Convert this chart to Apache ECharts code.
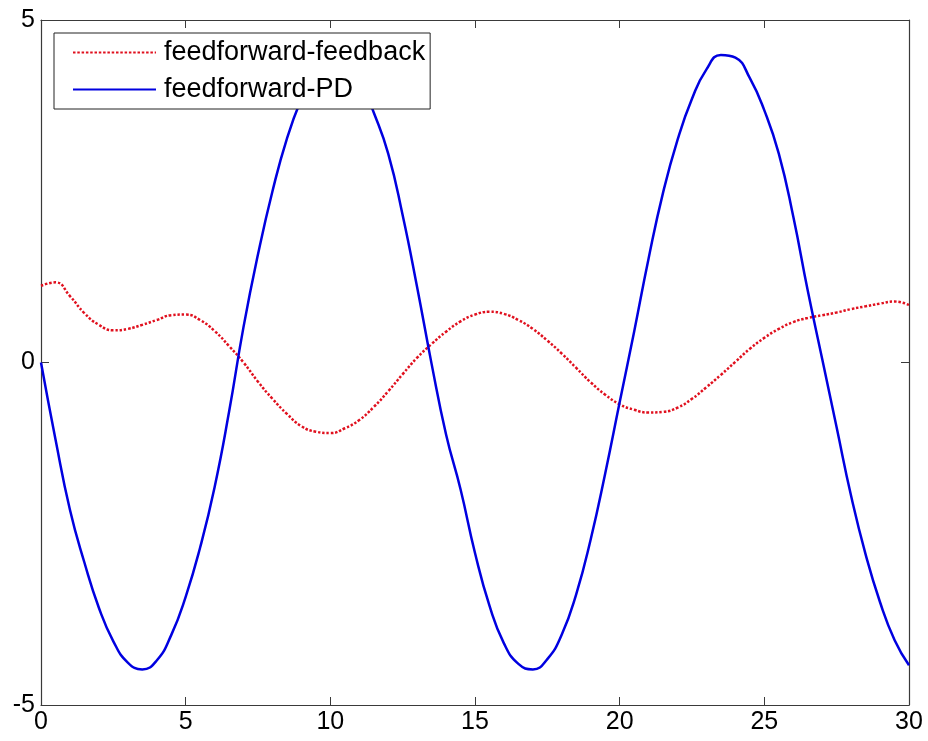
<!DOCTYPE html>
<html>
<head>
<meta charset="utf-8">
<script src="https://cdn.jsdelivr.net/npm/echarts@6/dist/echarts.min.js"></script>
<style>
  html, body { margin: 0; padding: 0; background: #fff; }
  #main { width: 928px; height: 741px; }
</style>
</head>
<body>
<div id="main"></div>
<script>
// time samples (step 0.5)
var times = [0,0.5,1,1.5,2,2.5,3,3.5,4,4.5,5,5.5,6,6.5,7,7.5,8,8.5,9,9.5,
	10,10.5,11,11.5,12,12.5,13,13.5,14,14.5,15,15.5,16,16.5,17,17.5,18,18.5,19,19.5,
	20,20.5,21,21.5,22,22.5,23,23.5,24,24.5,25,25.5,26,26.5,27,27.5,28,28.5,29,29.5,30];

var feedback = [1.12,1.17,0.97,0.72,0.55,0.47,0.49,0.55,0.62,0.69,0.70,0.62,0.46,0.24,0.00,-0.28,-0.53,-0.75,-0.93,-1.01,
	-1.03,-0.96,-0.84,-0.65,-0.42,-0.17,0.07,0.27,0.45,0.60,0.70,0.74,0.71,0.62,0.49,0.32,0.13,-0.08,-0.29,-0.47,
	-0.61,-0.69,-0.73,-0.72,-0.66,-0.53,-0.36,-0.18,0.01,0.20,0.36,0.49,0.59,0.65,0.69,0.73,0.78,0.82,0.86,0.89,0.84];

var pd = [0,-1.12,-2.15,-2.92,-3.58,-4.07,-4.38,-4.48,-4.35,-3.98,-3.42,-2.70,-1.82,-0.72,0.52,1.58,2.50,3.27,3.85,4.28,
	4.48,4.44,4.15,3.65,3.05,2.15,1.10,-0.02,-1.05,-1.85,-2.78,-3.55,-4.10,-4.40,-4.48,-4.33,-3.97,-3.38,-2.58,-1.62,
	-0.58,0.45,1.52,2.48,3.25,3.85,4.28,4.49,4.45,4.15,3.68,3.05,2.13,1.05,0.05,-0.95,-1.95,-2.80,-3.50,-4.05,-4.42];

var names = ['feedforward-feedback', 'feedforward-PD'];

function pairs(ys){
	var out = [];
	for (var i = 0; i < times.length; i++) out.push([times[i], ys[i]]);
	return out;
}

var chart = echarts.init(document.getElementById('main'));

var axisCol = '#3a3a3a';
var font = 'Liberation Sans, Arial, sans-serif';

function xAx(pos, labels){
	return {
		type: 'value', position: pos, min: 0, max: 30, interval: 5,
		axisLine: { show: true, onZero: false, lineStyle: { color: axisCol, width: 1.2 } },
		axisTick: { show: true, inside: true, length: 8, lineStyle: { color: axisCol } },
		axisLabel: { show: labels, color: '#000', fontSize: 25, fontFamily: font, margin: 5 },
		splitLine: { show: false }
	};
}
function yAx(pos, labels){
	return {
		type: 'value', position: pos, min: -5, max: 5, interval: 5,
		axisLine: { show: true, onZero: false, lineStyle: { color: axisCol, width: 1.2 } },
		axisTick: { show: true, inside: true, length: 8, lineStyle: { color: axisCol } },
		axisLabel: { show: labels, color: '#000', fontSize: 25, fontFamily: font, margin: 6 },
		splitLine: { show: false }
	};
}

var option = {
	backgroundColor: '#fff',
	animation: false,
	grid: { left: 41, right: 19, top: 20, bottom: 36 },
	legend: {
		orient: 'vertical',
		left: 54, top: 33,
		z: 10,
		padding: [6, 5, 6, 18],
		itemGap: 10,
		itemWidth: 83,
		itemHeight: 26,
		backgroundColor: '#fff',
		borderColor: '#222',
		borderWidth: 1,
		itemStyle: { opacity: 0 },
		textStyle: { color: '#000', fontSize: 27, fontFamily: font, lineHeight: 26, padding: [0, 0, 0, 3] },
		data: names
	},
	xAxis: [xAx('bottom', true), xAx('top', false)],
	yAxis: [yAx('left', true), yAx('right', false)],
	series: [
		{
			name: names[0], type: 'line', smooth: 0.5, symbol: 'none',
			lineStyle: { color: '#e0101e', width: 2.5, type: [2.5, 1.8] },
			itemStyle: { color: '#e0101e' },
			data: pairs(feedback)
		},
		{
			name: names[1], type: 'line', smooth: 0.5, symbol: 'none',
			lineStyle: { color: '#0000e0', width: 2.5 },
			itemStyle: { color: '#0000e0' },
			data: pairs(pd)
		}
	]
};

chart.setOption(option);
</script>
</body>
</html>
